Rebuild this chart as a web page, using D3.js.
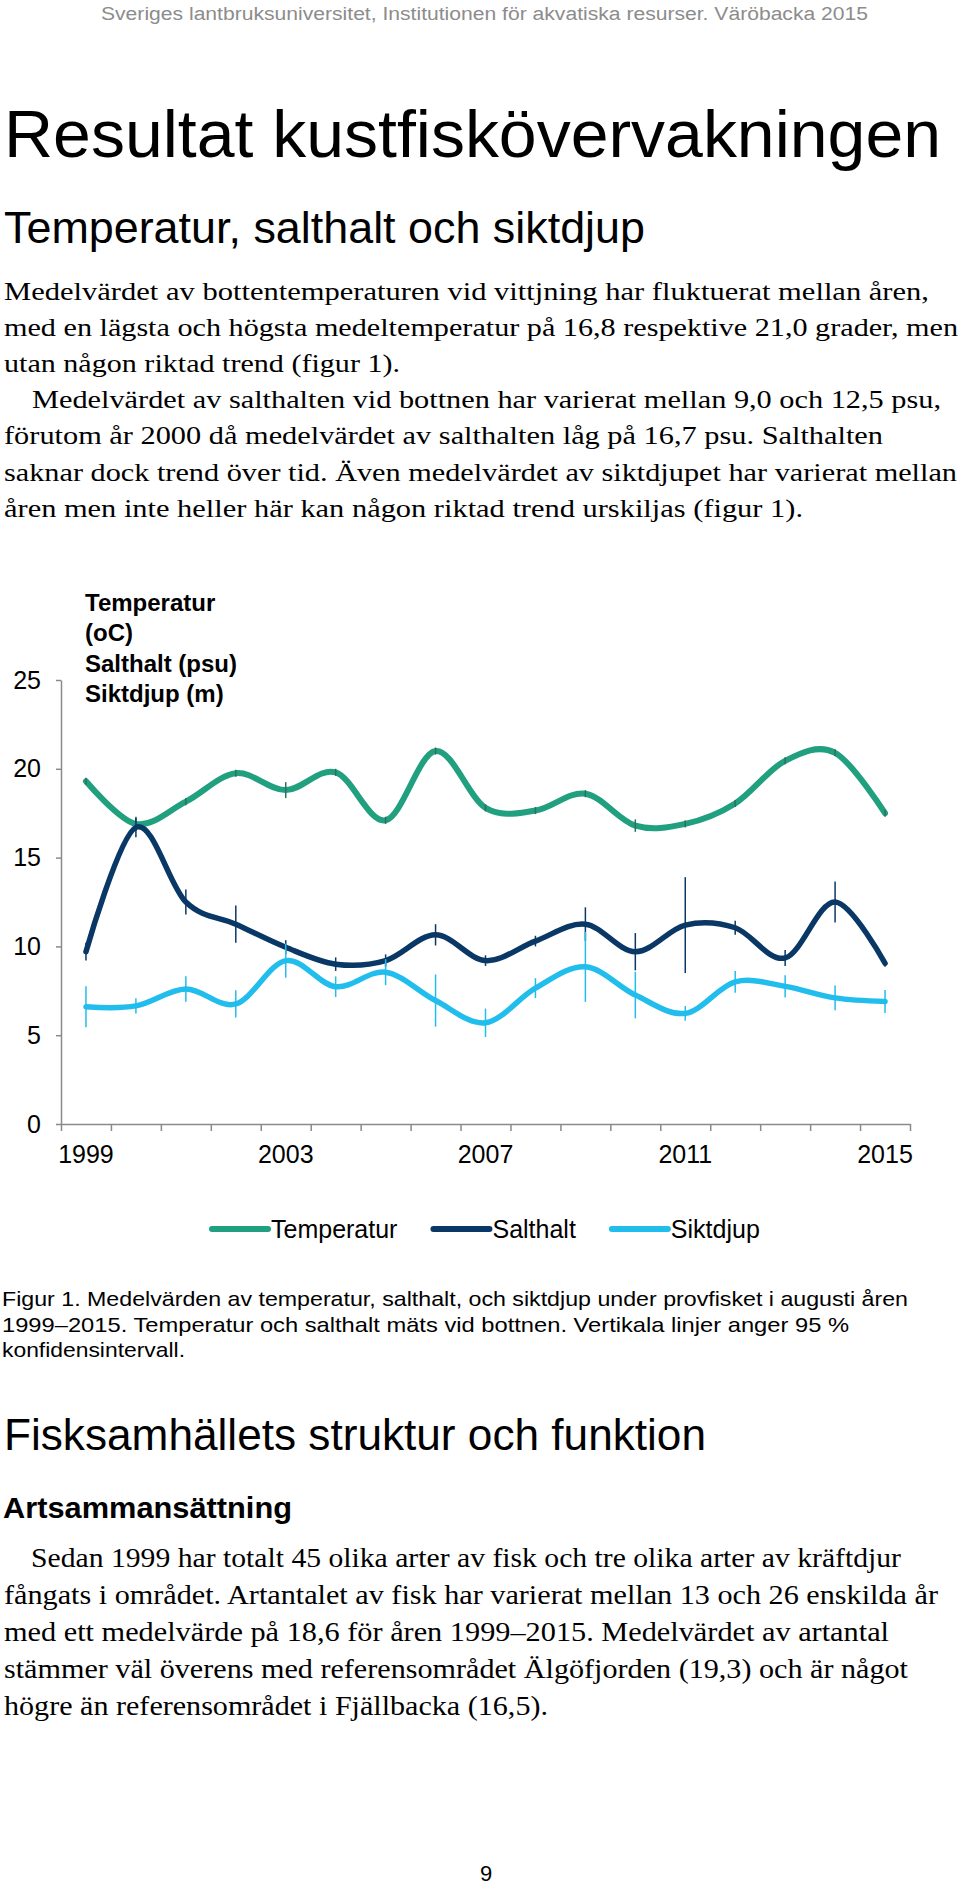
<!DOCTYPE html>
<html>
<head>
<meta charset="utf-8">
<script src="https://cdn.jsdelivr.net/npm/d3@7/dist/d3.min.js"></script>
<style>
  html, body { margin: 0; padding: 0; background: #fff; }
  svg { display: block; }
  .sans { font-family: "Liberation Sans", Arial, Helvetica, sans-serif; }
  .serif { font-family: "Liberation Serif", "Times New Roman", serif; }
</style>
</head>
<body>
<svg id="page" width="960" height="1885"></svg>
<script>
// ---------- DATA ----------
const years = ["1999","2000","2001","2002","2003","2004","2005","2006","2007","2008","2009","2010","2011","2012","2013","2014","2015"];
const yearLabels = ["1999","2003","2007","2011","2015"];
const yTicks = [0, 5, 10, 15, 20, 25];
const seriesNames = ["Temperatur", "Salthalt", "Siktdjup"];

const temperature = [19.3, 16.9, 18.15, 19.75, 18.8, 19.8, 17.1, 21.0, 17.8, 17.65, 18.6, 16.8, 16.9, 18.05, 20.45, 20.9, 17.5];
const temperatureCI = [0.2, 0.4, 0.2, 0.2, 0.45, 0.2, 0.2, 0.2, 0.2, 0.2, 0.2, 0.35, 0.2, 0.2, 0.2, 0.2, 0.2];

const salinity = [9.7, 16.7, 12.5, 11.25, 9.95, 9.0, 9.2, 10.65, 9.2, 10.3, 11.25, 9.7, 11.2, 11.05, 9.35, 12.5, 9.05];
const salinityCI = [0.5, 0.55, 0.7, 1.05, 0.4, 0.38, 0.35, 0.6, 0.3, 0.3, 0.95, 1.05, 2.7, 0.4, 0.45, 1.15, 0.2];

const secchi = [6.6, 6.65, 7.6, 6.76, 9.2, 7.73, 8.55, 6.95, 5.7, 7.65, 8.85, 7.26, 6.23, 8.0, 7.75, 7.1, 6.9];
const secchiCI = [1.15, 0.43, 0.72, 0.77, 0.96, 0.58, 0.73, 1.47, 0.8, 0.56, 1.97, 1.31, 0.41, 0.61, 0.63, 0.7, 0.65];

const yTitleLines = ["Temperatur", "(oC)", "Salthalt (psu)", "Siktdjup (m)"];

// ---------- TEXT ----------
const headerText = "Sveriges lantbruksuniversitet, Institutionen för akvatiska resurser. Väröbacka 2015";
const titleText = "Resultat kustfiskövervakningen";
const subTitleText = "Temperatur, salthalt och siktdjup";
const para1 = [
  "Medelvärdet av bottentemperaturen vid vittjning har fluktuerat mellan åren,",
  "med en lägsta och högsta medeltemperatur på 16,8 respektive 21,0 grader, men",
  "utan någon riktad trend (figur 1).",
  "Medelvärdet av salthalten vid bottnen har varierat mellan 9,0 och 12,5 psu,",
  "förutom år 2000 då medelvärdet av salthalten låg på 16,7 psu. Salthalten",
  "saknar dock trend över tid. Även medelvärdet av siktdjupet har varierat mellan",
  "åren men inte heller här kan någon riktad trend urskiljas (figur 1)."
];
const captionLines = [
  "Figur 1. Medelvärden av temperatur, salthalt, och siktdjup under provfisket i augusti åren",
  "1999–2015. Temperatur och salthalt mäts vid bottnen. Vertikala linjer anger 95 %",
  "konfidensintervall."
];
const heading2 = "Fisksamhällets struktur och funktion";
const heading3 = "Artsammansättning";
const para2 = [
  "Sedan 1999 har totalt 45 olika arter av fisk och tre olika arter av kräftdjur",
  "fångats i området. Artantalet av fisk har varierat mellan 13 och 26 enskilda år",
  "med ett medelvärde på 18,6 för åren 1999–2015. Medelvärdet av artantal",
  "stämmer väl överens med referensområdet Älgöfjorden (19,3) och är något",
  "högre än referensområdet i Fjällbacka (16,5)."
];
const pageNumber = "9";

// ---------- STYLE / LAYOUT ----------
const colors = { Temperatur: "#21a07f", Salthalt: "#0a3866", Siktdjup: "#21bdec" };
const widths = { Temperatur: 6, Salthalt: 5.5, Siktdjup: 5.5 };
const axisColor = "#8a8a8a";

const svg = d3.select("#page");
svg.append("rect").attr("width", 960).attr("height", 1885).attr("fill", "#fff");

function textLine(g, str, x, y, opts) {
  const t = g.append("text")
    .attr("x", x).attr("y", y)
    .attr("class", opts.cls || "sans")
    .attr("font-size", opts.size)
    .attr("fill", opts.fill || "#000")
    .text(str);
  if (opts.weight) t.attr("font-weight", opts.weight);
  if (opts.len) t.attr("textLength", opts.len).attr("lengthAdjust", opts.adjust || "spacingAndGlyphs");
  if (opts.anchor) t.attr("text-anchor", opts.anchor);
  return t;
}

const page = svg.append("g");
textLine(page, headerText, 101, 20, { size: 18, fill: "#8c8c8c", len: 767 });
textLine(page, titleText, 4, 157, { size: 67, len: 937 });
textLine(page, subTitleText, 4, 243, { size: 44, len: 641 });

const p1x = [4, 4, 4, 32, 4, 4, 4];
const p1end = [929, 958, 400, 941, 883, 957, 803];
const p1y = [300, 336, 372, 408, 444, 481, 517];
para1.forEach((s, i) => textLine(page, s, p1x[i], p1y[i], { cls: "serif", size: 24.5, len: p1end[i] - p1x[i] }));

const capEnd = [908, 849, 185];
const capY = [1306, 1332, 1357];
captionLines.forEach((s, i) => textLine(page, s, 2, capY[i], { size: 21, len: capEnd[i] - 2 }));

textLine(page, heading2, 4, 1450, { size: 44, len: 702 });
textLine(page, heading3, 3, 1518, { size: 30, weight: "bold", len: 289 });

const p2x = [31, 4, 4, 4, 4];
const p2end = [901, 938, 889, 908, 548];
const p2y = [1567, 1604, 1641, 1678, 1715];
para2.forEach((s, i) => textLine(page, s, p2x[i], p2y[i], { cls: "serif", size: 26.5, len: p2end[i] - p2x[i] }));

textLine(page, pageNumber, 486, 1881, { size: 22, anchor: "middle" });

// ---------- CHART ----------
const x = d3.scaleBand().domain(years).range([61, 910]).padding(0);
const xc = d => x(d) + x.bandwidth() / 2;
const y = d3.scaleLinear().domain([0, 25]).range([1124, 680]);

const chart = svg.append("g");

// Y axis
const yAxis = chart.append("g")
  .attr("transform", "translate(61,0)")
  .call(d3.axisLeft(y).tickValues(yTicks).tickSize(5).tickSizeOuter(0).tickPadding(15).tickFormat(d3.format("d")));
yAxis.select(".domain").attr("stroke", axisColor).attr("stroke-width", 1.5);
yAxis.selectAll(".tick line").attr("stroke", axisColor).attr("stroke-width", 1.5);
yAxis.selectAll(".tick text").attr("fill", "#000").attr("font-size", 25)
  .attr("font-family", "Liberation Sans, Arial, sans-serif");

// X axis: ticks at category boundaries
const xb = d3.scaleLinear().domain([0, years.length]).range(x.range());
const xAxis = chart.append("g")
  .attr("transform", "translate(0,1124)")
  .call(d3.axisBottom(xb).tickValues(d3.range(years.length + 1)).tickSize(7).tickSizeOuter(0).tickFormat(""));
xAxis.select(".domain").attr("stroke", axisColor).attr("stroke-width", 1.5);
xAxis.selectAll(".tick line").attr("stroke", axisColor).attr("stroke-width", 1.5);

const xLab = chart.append("g")
  .attr("transform", "translate(0,1124)")
  .call(d3.axisBottom(x).tickValues(yearLabels).tickSize(0).tickPadding(0));
xLab.select(".domain").remove();
xLab.selectAll(".tick text").attr("y", 39).attr("dy", 0).attr("fill", "#000")
  .attr("font-size", 25).attr("font-family", "Liberation Sans, Arial, sans-serif");

// Y axis title
yTitleLines.forEach((s, i) => textLine(chart, s, 85, 611 + i * 30.3, { size: 24, weight: "bold" }));

// Series
const series = [
  { name: "Temperatur", values: temperature, ci: temperatureCI },
  { name: "Salthalt", values: salinity, ci: salinityCI },
  { name: "Siktdjup", values: secchi, ci: secchiCI }
];

const line = d3.line()
  .x((d, i) => xc(years[i]))
  .y(d => y(d))
  .curve(d3.curveCatmullRom.alpha(0));

series.forEach(s => {
  const g = chart.append("g");
  g.append("path")
    .datum(s.values)
    .attr("d", line)
    .attr("fill", "none")
    .attr("stroke", colors[s.name])
    .attr("stroke-width", widths[s.name])
    .attr("stroke-linecap", "round")
    .attr("stroke-linejoin", "round");
  g.selectAll("line.err")
    .data(s.values.map((v, i) => ({ v, c: s.ci[i], yr: years[i] })))
    .join("line")
    .attr("class", "err")
    .attr("x1", d => xc(d.yr)).attr("x2", d => xc(d.yr))
    .attr("y1", d => y(d.v - d.c)).attr("y2", d => y(d.v + d.c))
    .attr("stroke", s.name === "Temperatur" ? "#2f6f5f" : colors[s.name])
    .attr("stroke-width", 1.5);
});

// Legend
const legend = chart.append("g").attr("transform", "translate(0,1229)");
let lx = 212;
seriesNames.forEach(n => {
  legend.append("line")
    .attr("x1", lx).attr("x2", lx + 56).attr("y1", 0).attr("y2", 0)
    .attr("stroke", colors[n]).attr("stroke-width", 6).attr("stroke-linecap", "round");
  const t = legend.append("text")
    .attr("x", lx + 59).attr("y", 9)
    .attr("font-size", 25).attr("font-family", "Liberation Sans, Arial, sans-serif")
    .attr("fill", "#000").text(n);
  lx = lx + 59 + t.node().getComputedTextLength() + 36;
});
</script>
</body>
</html>
